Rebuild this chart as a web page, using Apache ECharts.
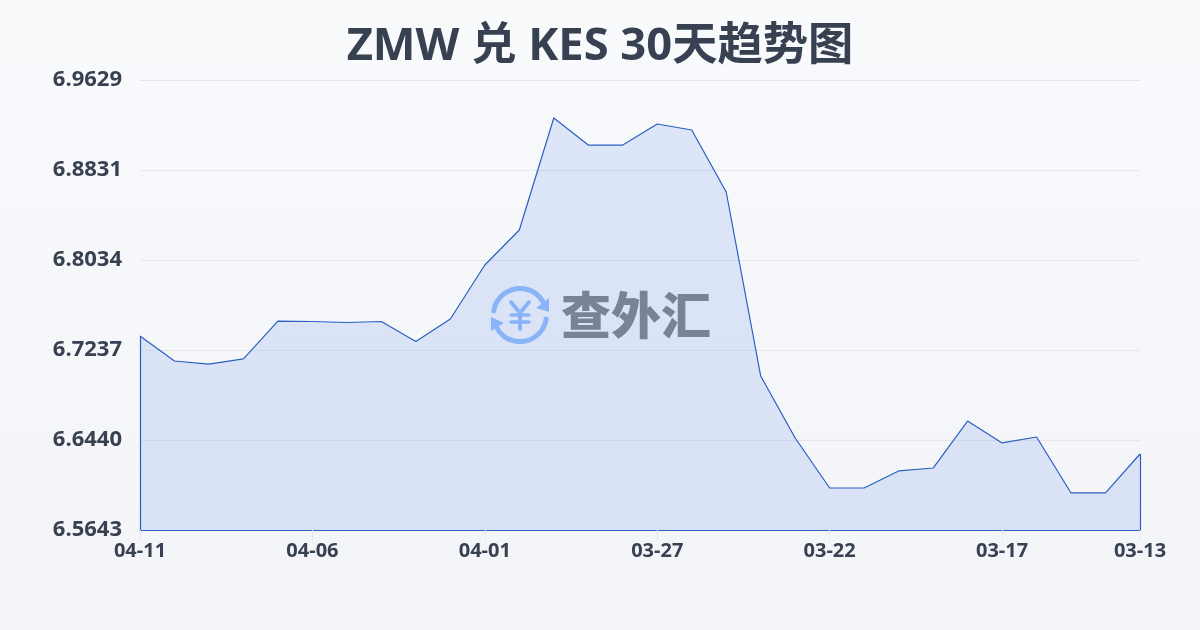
<!DOCTYPE html>
<html>
<head>
<meta charset="utf-8">
<title>ZMW 兑 KES 30天趋势图</title>
<style>
    html, body { margin: 0; padding: 0; }
    #main { width: 1200px; height: 630px; }
</style>
<script src="https://cdn.jsdelivr.net/npm/echarts@6/dist/echarts.min.js"></script>
</head>
<body>
<div id="main"></div>
<script>
var titleText = 'ZMW 兑 KES 30天趋势图';
var watermarkText = '查外汇';
var dates = ['04-11', '04-10', '04-09', '04-08', '04-07', '04-06', '04-05', '04-04', '04-03', '04-02',
    '04-01', '03-31', '03-30', '03-29', '03-28', '03-27', '03-26', '03-25', '03-24', '03-23',
    '03-22', '03-21', '03-20', '03-19', '03-18', '03-17', '03-16', '03-15', '03-14', '03-13'];
var rates = [6.7361, 6.7140, 6.7113, 6.7158, 6.7494, 6.7490, 6.7481, 6.7490, 6.7313, 6.7512,
    6.7990, 6.8300, 6.9292, 6.9053, 6.9053, 6.9239, 6.9186, 6.8637, 6.7007, 6.6458,
    6.6015, 6.6015, 6.6166, 6.6192, 6.6608, 6.6414, 6.6467, 6.5971, 6.5971, 6.6316];
var yTickLabels = ['6.5643', '6.6440', '6.7237', '6.8034', '6.8831', '6.9629'];
var yMin = 6.5643;
var yMax = 6.9629;

var textColor = '#374151';
var lineColor = '#2a5fc0';
var iconColor = '#8ab4f8';
var font = '"Open Sans", "Noto Sans CJK SC", sans-serif';

var myChart = echarts.init(document.getElementById('main'));

var option = {
    animation: false,
    backgroundColor: new echarts.graphic.LinearGradient(0, 0, 0, 1, [
        { offset: 0, color: '#f8fafc' },
        { offset: 1, color: '#f2f4f7' }
    ]),
    title: {
        text: titleText,
        left: 'center',
        top: 19,
        textStyle: {
            color: textColor,
            fontSize: 45.3,
            fontWeight: 'bold',
            fontFamily: font
        }
    },
    grid: { left: 140, right: 60, top: 80, bottom: 100 },
    xAxis: {
        type: 'category',
        boundaryGap: false,
        data: dates,
        axisLine: { lineStyle: { color: lineColor, width: 1 } },
        axisTick: {
            length: 10,
            lineStyle: { color: '#e5e7eb' },
            interval: function(i) { return i % 5 === 0 || i === dates.length - 1; }
        },
        axisLabel: {
            color: textColor,
            fontSize: 20,
            fontWeight: 'bold',
            fontFamily: font,
            margin: 11,
            hideOverlap: false,
            interval: function(i) { return i % 5 === 0 || i === dates.length - 1; }
        }
    },
    yAxis: {
        type: 'value',
        min: yMin,
        max: yMax,
        interval: (yMax - yMin) / 5,
        axisLine: { show: false },
        axisTick: { show: false },
        splitLine: { lineStyle: { color: '#e5e7eb', width: 1 } },
        axisLabel: {
            color: textColor,
            fontSize: 22,
            fontWeight: 'bold',
            fontFamily: font,
            margin: 18,
            padding: [0, 0, 4, 0],
            formatter: function(value, index) { return yTickLabels[index]; }
        }
    },
    series: [{
        type: 'line',
        data: rates,
        symbol: 'none',
        smooth: false,
        lineStyle: { color: lineColor, width: 1.2 },
        areaStyle: { color: 'rgba(37, 99, 235, 0.18)' },
        // vertical edges of the area at both ends
        markLine: {
            silent: true,
            symbol: 'none',
            label: { show: false },
            lineStyle: { color: lineColor, width: 1.2, type: 'solid' },
            data: [
                [{ xAxis: dates[0], yAxis: yMin }, { xAxis: dates[0], yAxis: rates[0] }],
                [{ xAxis: dates[dates.length - 1], yAxis: yMin }, { xAxis: dates[dates.length - 1], yAxis: rates[rates.length - 1] }]
            ]
        }
    }],
    graphic: [
        { type: 'arc', z: 100, shape: { cx: 520, cy: 315, r: 26.5, startAngle: Math.PI * 1.05, endAngle: Math.PI * 1.85 }, style: { stroke: iconColor, lineWidth: 5, fill: null, lineCap: 'round' } },
        { type: 'arc', z: 100, shape: { cx: 520, cy: 315, r: 26.5, startAngle: Math.PI * 0.05, endAngle: Math.PI * 0.85 }, style: { stroke: iconColor, lineWidth: 5, fill: null, lineCap: 'round' } },
        { type: 'polygon', z: 100, shape: { points: [[549, 298], [549, 312], [536, 308]] }, style: { fill: iconColor } },
        { type: 'polygon', z: 100, shape: { points: [[491, 317], [491, 331], [504, 323]] }, style: { fill: iconColor } },
        // yen sign of the logo
        { type: 'polyline', z: 100, shape: { points: [[511, 302], [520, 313], [529, 302]] }, style: { stroke: iconColor, lineWidth: 4, fill: null, lineCap: 'round' } },
        { type: 'line', z: 100, shape: { x1: 520, y1: 313, x2: 520, y2: 329 }, style: { stroke: iconColor, lineWidth: 4, lineCap: 'round' } },
        { type: 'line', z: 100, shape: { x1: 511, y1: 315, x2: 529, y2: 315 }, style: { stroke: iconColor, lineWidth: 3.5, lineCap: 'round' } },
        { type: 'line', z: 100, shape: { x1: 511, y1: 322, x2: 529, y2: 322 }, style: { stroke: iconColor, lineWidth: 3.5, lineCap: 'round' } },
        { type: 'text', z: 100, style: { x: 636, y: 315, text: watermarkText, align: 'center', verticalAlign: 'middle', fill: '#7a8296', font: '900 50px "Noto Sans CJK SC"' } }
    ]
};

myChart.setOption(option);
</script>
</body>
</html>
